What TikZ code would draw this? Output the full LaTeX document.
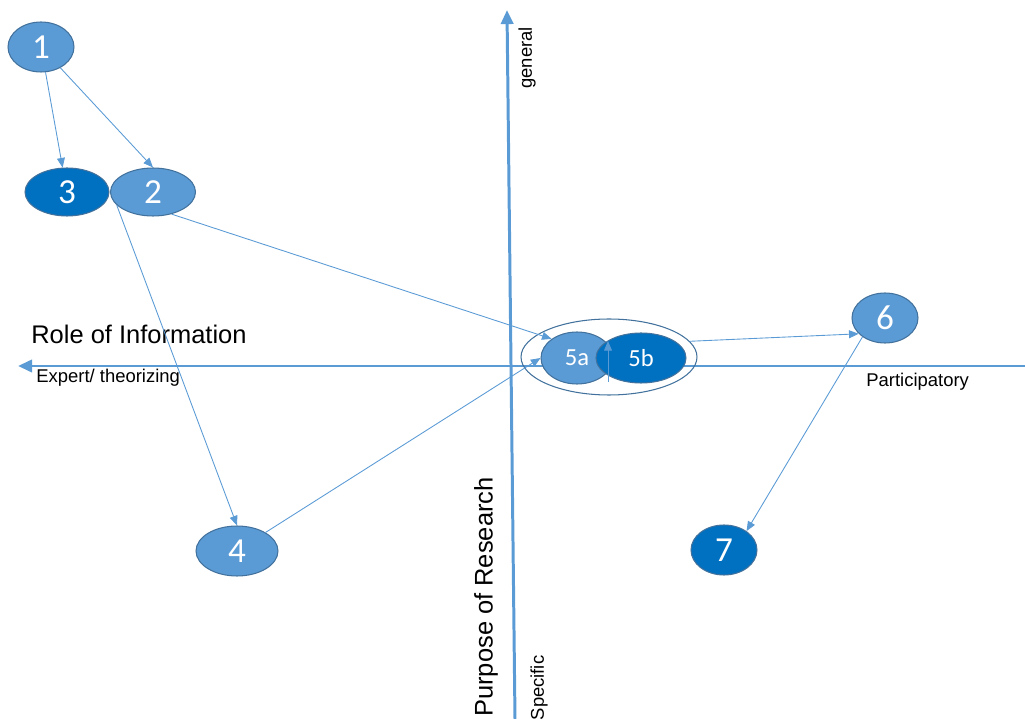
\documentclass[tikz,border=0pt]{standalone}
\usepackage{fontspec}
\setmainfont{Liberation Sans}
\newfontfamily\numfont{Carlito}
\usetikzlibrary{shapes.geometric,arrows.meta}
\definecolor{midblue}{HTML}{5B9BD5}
\definecolor{deepblue}{HTML}{0070C0}
\definecolor{rimblue}{HTML}{41719C}
\tikzset{
  stage/.style={ellipse, draw=rimblue, line width=0.6pt, fill=midblue, text=white, inner sep=0pt,
    font=\numfont\fontsize{20}{20}\selectfont, minimum width=1.32cm, minimum height=1cm},
  darkstage/.style={stage, fill=deepblue},
  substage/.style={font=\numfont\fontsize{14}{14}\selectfont},
  link/.style={draw=midblue, line width=0.5pt, -{Triangle[length=5.5pt,width=4.5pt]}},
  axis/.style={draw=midblue, line width=1.7pt, -{Triangle[length=8pt,width=7pt]}},
  axislabel/.style={inner sep=0pt, font=\fontsize{10.5}{10.5}\selectfont},
  axistitle/.style={inner sep=0pt, font=\fontsize{14.5}{14.5}\selectfont},
}
\begin{document}
\begin{tikzpicture}[x=0.02cm, y=-0.02cm]
        \useasboundingbox (0,0) rectangle (1025,719);
        \coordinate (east) at (1025,366);
        \coordinate (west) at (18,366);
        \coordinate (south) at (515,719);
        \coordinate (north) at (507,10);
        \draw[axis] (east) -- (west);
        \draw[axis] (south) -- (north);
        \node[axistitle, anchor=west] (roleinfo) at (31,334) {Role of Information};
        \node[axislabel, anchor=west] (expert) at (36,378) {Expert/ theorizing};
        \node[axislabel, anchor=west] (particip) at (866,382) {Participatory};
        \node[axislabel, rotate=90] (general) at (527,58) {general};
        \node[axislabel, rotate=90] (specific) at (539,688) {Specific};
        \node[axistitle, rotate=90] (purpose) at (486,597) {Purpose of Research};
        \node[stage] (n1) at (41,47) {1};
        \node[darkstage, minimum width=1.68cm, minimum height=0.96cm] (n3) at (67,192) {3};
        \node[stage, minimum width=1.7cm, minimum height=0.96cm] (n2) at (153,192) {2};
        \node[stage, minimum width=1.64cm] (n4) at (237,551) {4};
        \node[ellipse, draw=rimblue, line width=0.6pt, minimum width=3.52cm, minimum height=1.52cm] (n5) at (609,357) {};
        \node[stage, substage, minimum width=1.44cm, minimum height=1.04cm] (n5a) at (577,358) {5a};
        \node[darkstage, substage, minimum width=1.8cm] (n5b) at (641,358) {5b};
        \node[stage] (n6) at (885,318) {6};
        \node[darkstage] (n7) at (724,550) {7};
        \coordinate (lensbot) at (608,382);
        \coordinate (lenstop) at (608,341);
        \draw[link] (n1) -- (n3);
        \draw[link] (n1) -- (n2.north);
        \draw[link] (n2.-50) -- (n5a.143);
        \draw[link] (n2.200) -- (n4.north);
        \draw[link] (n4.33) -- (n5a.west);
        \draw[link] (lensbot) -- (lenstop);
        \draw[link] (n5.11) -- (n6.211);
        \draw[link] (n6.-140) -- (n7.40);
        \end{tikzpicture}
\end{document}
